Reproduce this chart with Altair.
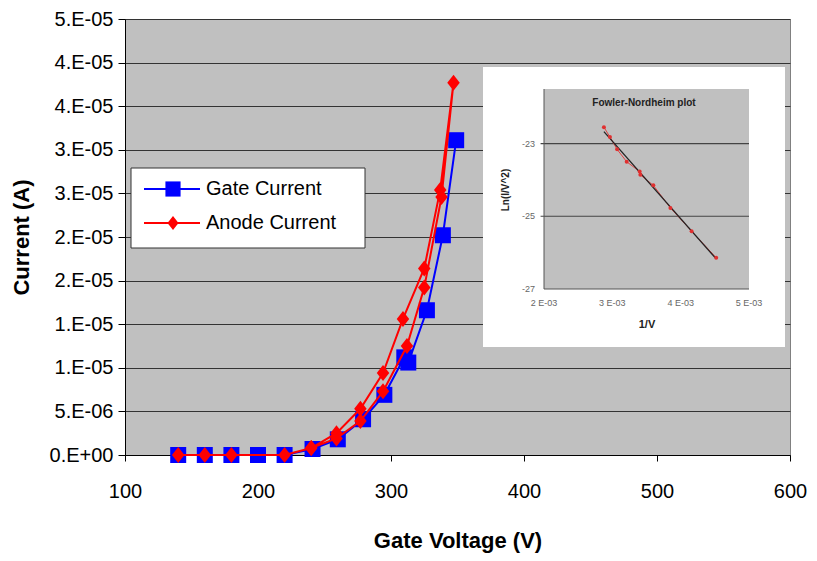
import altair as alt
import pandas as pd

# ---------------- data ----------------
gate_v = [140, 160, 180, 200, 220, 241, 260, 279, 295, 310, 313, 327, 339, 349]
gate_i = [0, 0, 0, 0, 0, 6.9e-7, 1.8e-6, 4.1e-6, 6.9e-6, 1.12e-5, 1.06e-5, 1.66e-5, 2.52e-5, 3.61e-5]

anode_v = [140, 160, 180, 220, 240, 259, 277, 294, 312, 325, 338, 347, 337, 325, 309, 294, 277, 259, 240]
anode_i = [0, 0, 0, 0, 8e-7, 1.9e-6, 3.9e-6, 7.3e-6, 1.25e-5, 1.92e-5, 2.96e-5, 4.27e-5,
           3.04e-5, 2.14e-5, 1.56e-5, 9.4e-6, 5.3e-6, 2.5e-6, 8e-7]

x_ticks = [100, 200, 300, 400, 500, 600]
y_ticks = [0, 5e-6, 1e-5, 1.5e-5, 2e-5, 2.5e-5, 3e-5, 3.5e-5, 4e-5, 4.5e-5, 5e-5]
y_tick_labels = ["0.E+00", "5.E-06", "1.E-05", "1.E-05", "2.E-05", "2.E-05",
                 "3.E-05", "3.E-05", "4.E-05", "4.E-05", "5.E-05"]

series_names = ["Gate Current", "Anode Current"]

# Fowler-Nordheim inset
fn_x = [2.877e-3, 2.965e-3, 3.07e-3, 3.21e-3, 3.40e-3, 3.41e-3, 3.60e-3, 3.85e-3, 4.16e-3, 4.52e-3]
fn_y = [-22.55, -22.82, -23.16, -23.5, -23.77, -23.86, -24.15, -24.77, -25.41, -26.14]
fn_x_ticks = [0.002, 0.003, 0.004, 0.005]
fn_x_tick_labels = ["2 E-03", "3 E-03", "4 E-03", "5 E-03"]
fn_y_ticks = [-23, -25, -27]
fn_y_tick_labels = ["-23", "-25", "-27"]
fn_x_domain = [0.002, 0.005]
fn_y_domain = [-27, -21.5]

FONT = "Liberation Sans"
BLUE = "#0000FF"
RED = "#FF0000"

# ---------------- main chart ----------------
gate_df = pd.DataFrame({"V": gate_v, "I": gate_i, "idx": range(len(gate_v))})
anode_df = pd.DataFrame({"V": anode_v, "I": anode_i, "idx": range(len(anode_v))})

label_expr = "[" + ",".join("'%s'" % s for s in y_tick_labels) + "][round(datum.value/5e-6)]"

xscale = alt.Scale(domain=[100, 600], nice=False, zero=False)
yscale = alt.Scale(domain=[0, 5e-5], nice=False)

x_enc = alt.X("V:Q", scale=xscale, axis=alt.Axis(
    values=x_ticks, title="Gate Voltage (V)", orient="bottom", grid=False,
    labelFont=FONT, labelFontSize=20, labelColor="#000", labelPadding=20,
    tickSize=6, tickColor="#000", domainColor="#000",
    titleFont=FONT, titleFontSize=22, titleFontWeight="bold", titleColor="#000",
    titlePadding=29, labelFlush=False))
y_enc = alt.Y("I:Q", scale=yscale, axis=alt.Axis(
    values=y_ticks, title="Current (A)", orient="left", grid=True,
    gridColor="#333333", gridWidth=1.2, labelExpr=label_expr,
    labelFont=FONT, labelFontSize=20, labelColor="#000", labelPadding=5,
    tickSize=7, tickColor="#000", domainColor="#000",
    titleFont=FONT, titleFontSize=22, titleFontWeight="bold", titleColor="#000",
    titlePadding=16))

gate_line = alt.Chart(gate_df).mark_line(color=BLUE, strokeWidth=2).encode(
    x=x_enc, y=y_enc, order="idx:Q")
gate_pts = alt.Chart(gate_df).mark_point(shape="square", filled=True, size=256,
                                         color=BLUE, opacity=1).encode(
    x=alt.X("V:Q", scale=xscale), y=alt.Y("I:Q", scale=yscale))

diamond = "M0,-1L0.78,0L0,1L-0.78,0Z"
anode_line = alt.Chart(anode_df).mark_line(color=RED, strokeWidth=2).encode(
    x=alt.X("V:Q", scale=xscale), y=alt.Y("I:Q", scale=yscale), order="idx:Q")
anode_pts = alt.Chart(anode_df).mark_point(shape=diamond, filled=True, size=256,
                                           color=RED, opacity=1).encode(
    x=alt.X("V:Q", scale=xscale), y=alt.Y("I:Q", scale=yscale))

# legend (drawn by hand to show line + marker)
one = pd.DataFrame({"a": [0]})
leg_box = alt.Chart(one).mark_rect(fill="white", stroke="#333333", strokeWidth=1).encode(
    x=alt.value(6), x2=alt.value(240), y=alt.value(149), y2=alt.value(229))
leg_l1 = alt.Chart(one).mark_rule(color=BLUE, strokeWidth=2).encode(
    x=alt.value(19), x2=alt.value(75), y=alt.value(170))
leg_p1 = alt.Chart(one).mark_point(shape="square", filled=True, size=230, color=BLUE, opacity=1).encode(
    x=alt.value(48), y=alt.value(170))
leg_t1 = alt.Chart(one).mark_text(text=series_names[0], font=FONT, fontSize=20, align="left",
                                  baseline="middle", color="#000").encode(
    x=alt.value(81), y=alt.value(170))
leg_l2 = alt.Chart(one).mark_rule(color=RED, strokeWidth=2).encode(
    x=alt.value(19), x2=alt.value(75), y=alt.value(204))
leg_p2 = alt.Chart(one).mark_point(shape=diamond, filled=True, size=200, color=RED, opacity=1).encode(
    x=alt.value(48), y=alt.value(204))
leg_t2 = alt.Chart(one).mark_text(text=series_names[1], font=FONT, fontSize=20, align="left",
                                  baseline="middle", color="#000").encode(
    x=alt.value(81), y=alt.value(204))

main = alt.layer(gate_line, gate_pts, anode_line, anode_pts,
                 leg_box, leg_l1, leg_p1, leg_t1, leg_l2, leg_p2, leg_t2)

# ---------------- inset (Fowler-Nordheim) ----------------
ix = alt.Scale(domain=fn_x_domain, range=[419, 624], nice=False, zero=False)
iy = alt.Scale(domain=fn_y_domain, range=[270, 70], nice=False, zero=False)

fn_df = pd.DataFrame({"x": fn_x, "y": fn_y})
frame_df = pd.DataFrame({"x": [fn_x_domain[0]], "x2": [fn_x_domain[1]],
                         "y": [fn_y_domain[0]], "y2": [fn_y_domain[1]]})
grid_df = pd.DataFrame({"y": fn_y_ticks[:2], "x": [0.00195] * 2, "x2": [fn_x_domain[1]] * 2})
xt_df = pd.DataFrame({"x": fn_x_ticks, "label": fn_x_tick_labels, "y": [fn_y_domain[0]] * 4})
yt_df = pd.DataFrame({"y": fn_y_ticks, "label": fn_y_tick_labels, "x": [fn_x_domain[0]] * 3})

white = alt.Chart(one).mark_rect(fill="white").encode(
    x=alt.value(358), x2=alt.value(660), y=alt.value(48), y2=alt.value(328))
gray = alt.Chart(frame_df).mark_rect(fill="#C0C0C0").encode(
    x=alt.X("x:Q", scale=ix, axis=None), x2="x2:Q",
    y=alt.Y("y:Q", scale=iy, axis=None), y2="y2:Q")
grid = alt.Chart(grid_df).mark_rule(color="#444444", strokeWidth=1.2).encode(
    x=alt.X("x:Q", scale=ix, axis=None), x2="x2:Q",
    y=alt.Y("y:Q", scale=iy, axis=None))
ax_left = alt.Chart(frame_df).mark_rule(color="#555555", strokeWidth=1).encode(
    x=alt.X("x:Q", scale=ix, axis=None),
    y=alt.Y("y:Q", scale=iy, axis=None), y2="y2:Q")
ax_bottom = alt.Chart(frame_df).mark_rule(color="#555555", strokeWidth=1).encode(
    x=alt.X("x:Q", scale=ix, axis=None), x2="x2:Q",
    y=alt.Y("y:Q", scale=iy, axis=None))
fn_line = alt.Chart(fn_df).mark_line(color="#E04040", strokeWidth=1).encode(
    x=alt.X("x:Q", scale=ix, axis=None), y=alt.Y("y:Q", scale=iy, axis=None))
fn_pts = alt.Chart(fn_df).mark_circle(color="#E03030", size=16, opacity=1).encode(
    x=alt.X("x:Q", scale=ix, axis=None), y=alt.Y("y:Q", scale=iy, axis=None))
fn_fit = alt.Chart(fn_df).transform_regression("x", "y").mark_line(
    color="#222222", strokeWidth=1.3).encode(
    x=alt.X("x:Q", scale=ix, axis=None), y=alt.Y("y:Q", scale=iy, axis=None))
xt = alt.Chart(xt_df).mark_text(font=FONT, fontSize=9, color="#666666", dy=14,
                                baseline="middle").encode(
    x=alt.X("x:Q", scale=ix, axis=None), y=alt.Y("y:Q", scale=iy, axis=None), text="label:N")
yt = alt.Chart(yt_df).mark_text(font=FONT, fontSize=9, color="#666666", dx=-9,
                                align="right", baseline="middle").encode(
    x=alt.X("x:Q", scale=ix, axis=None), y=alt.Y("y:Q", scale=iy, axis=None), text="label:N")
i_title = alt.Chart(one).mark_text(text="Fowler-Nordheim plot", font=FONT, fontSize=10,
                                   fontWeight="bold", color="#222222").encode(
    x=alt.value(519), y=alt.value(84))
i_xt = alt.Chart(one).mark_text(text="1/V", font=FONT, fontSize=11, fontWeight="bold",
                                color="#222222").encode(x=alt.value(522), y=alt.value(306))
i_yt = alt.Chart(one).mark_text(text="Ln(I/V^2)", font=FONT, fontSize=10, fontWeight="bold",
                                color="#222222", angle=270).encode(x=alt.value(381), y=alt.value(171))

inset = alt.layer(white, gray, grid, ax_left, ax_bottom, fn_line, fn_fit, fn_pts,
                  xt, yt, i_title, i_xt, i_yt)

chart = alt.layer(main, inset).resolve_scale(
    x="independent", y="independent").resolve_axis(x="independent", y="independent").properties(
    width=665, height=436,
    autosize=alt.AutoSizeParams(type="none"),
    padding={"left": 117, "top": 11, "right": 19, "bottom": 98},
    background="white",
).configure_view(fill="#C0C0C0", stroke="#808080", strokeWidth=1)

chart.save("out.html", embed_options={"renderer": "svg", "actions": False})
